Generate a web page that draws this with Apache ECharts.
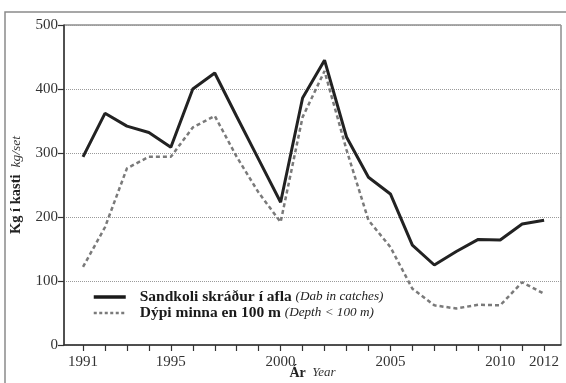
<!DOCTYPE html>
<html>
<head>
<meta charset="utf-8">
<script src="https://cdn.jsdelivr.net/npm/echarts@6/dist/echarts.min.js"></script>
<style>
html,body{margin:0;padding:0;background:#fff;}
#c{width:566px;height:383px;}
</style>
</head>
<body>
<div id="c"></div>
<script>
var years = [1991,1992,1993,1994,1995,1996,1997,1998,1999,2000,2001,2002,2003,2004,2005,2006,2007,2008,2009,2010,2011,2012];
var sandkoli = [294,362,342,332,309,400,425,357,290,223,386,445,325,262,236,156,125,146,165,164,189,195];
var dypi = [122,184,276,294,294,340,358,294,238,192,356,428,305,195,153,88,62,57,63,62,98,80];
var tickYears = [1991,1992,1993,1994,1995,1996,1997,1998,1999,2000,2001,2002,2003,2004,2005,2006,2007,2008,2009,2010,2011,2012];
var labelYears = [1991,1995,2000,2005,2010,2012];

var serif = '"Liberation Serif","DejaVu Serif",serif';
function pairs(xs, ys){ return xs.map(function(x,i){ return [x, ys[i]]; }); }

var chart = echarts.init(document.getElementById('c'), null, {renderer:'canvas'});
chart.setOption({
  backgroundColor:'#fff',
  animation:false,
  graphic:[{
    type:'rect', shape:{x:5, y:12, width:600, height:400},
    style:{fill:'none', stroke:'#8a8a8a', lineWidth:1.5}, silent:true, z:-1
  }],
  grid:{left:64, right:5, top:25, bottom:38, show:true, borderColor:'#555', borderWidth:1,
        backgroundColor:'transparent', containLabel:false, outerBoundsMode:'none'},
  legend:{
    orient:'vertical', left:87, top:287, itemWidth:32, itemHeight:12, itemGap:0,
    padding:[2,5,2,5],
    itemStyle:{opacity:0},
    textStyle:{fontFamily:serif, fontSize:15, color:'#222', lineHeight:16,
      rich:{
        b:{fontFamily:serif, fontSize:15.5, fontWeight:'bold', color:'#1a1a1a', padding:[0,0,0,9], lineHeight:16},
        i:{fontFamily:serif, fontSize:13.2, fontStyle:'italic', color:'#222', lineHeight:16}
      }},
    formatter:function(n){
      if(n==='s') return '{b|Sandkoli skráður í afla} {i|(Dab in catches)}';
      return '{b|Dýpi minna en 100 m} {i|(Depth < 100 m)}';
    },
    data:[{name:'s', lineStyle:{width:3.5, color:'#1a1a1a'}},
          {name:'d', lineStyle:{width:2.5, color:'#7a7a7a', type:[3,2.5]}}]
  },
  xAxis:{
    type:'value', min:1990.134, max:2012.77,
    name:'{b|Ár}  {i|Year}', nameLocation:'middle', nameGap:21, nameMoveOverlap:false,
    nameTextStyle:{fontFamily:serif, fontSize:13, color:'#222',
      rich:{b:{fontFamily:serif,fontSize:14,fontWeight:'bold',color:'#222'},
            i:{fontFamily:serif,fontSize:13,fontStyle:'italic',color:'#333'}}},
    axisLine:{show:true, onZero:false, lineStyle:{color:'#333', width:1.5}},
    axisTick:{show:true, inside:false, length:6, lineStyle:{color:'#333', width:1.2}, customValues:tickYears},
    axisLabel:{customValues:labelYears, fontFamily:serif, fontSize:15, color:'#333', margin:10,
      formatter:function(v){return String(Math.round(v));}},
    splitLine:{show:false}
  },
  yAxis:{
    type:'value', min:0, max:500, interval:100,
    name:'{b|Kg í kasti}  {i|kg/set}', nameLocation:'middle', nameGap:40, nameRotate:90, nameMoveOverlap:false,
    nameTextStyle:{fontFamily:serif, fontSize:14, color:'#222',
      rich:{b:{fontFamily:serif,fontSize:14.5,fontWeight:'bold',color:'#222'},
            i:{fontFamily:serif,fontSize:13.5,fontStyle:'italic',color:'#333'}}},
    axisLine:{show:true, lineStyle:{color:'#333', width:1.5}},
    axisTick:{show:true, length:6, lineStyle:{color:'#333', width:1.2}},
    axisLabel:{fontFamily:serif, fontSize:15, color:'#333', margin:6},
    splitLine:{show:true, lineStyle:{color:'#9a9a9a', type:[1,1], width:1}}
  },
  series:[
    {name:'s', type:'line', data:pairs(years, sandkoli), symbol:'none',
     lineStyle:{color:'#222', width:3}, itemStyle:{color:'#222'}, z:3},
    {name:'d', type:'line', data:pairs(years, dypi), symbol:'none',
     lineStyle:{color:'#7a7a7a', width:2.5, type:[4,3]}, itemStyle:{color:'#7a7a7a'}, z:2}
  ]
});
</script>
</body>
</html>
